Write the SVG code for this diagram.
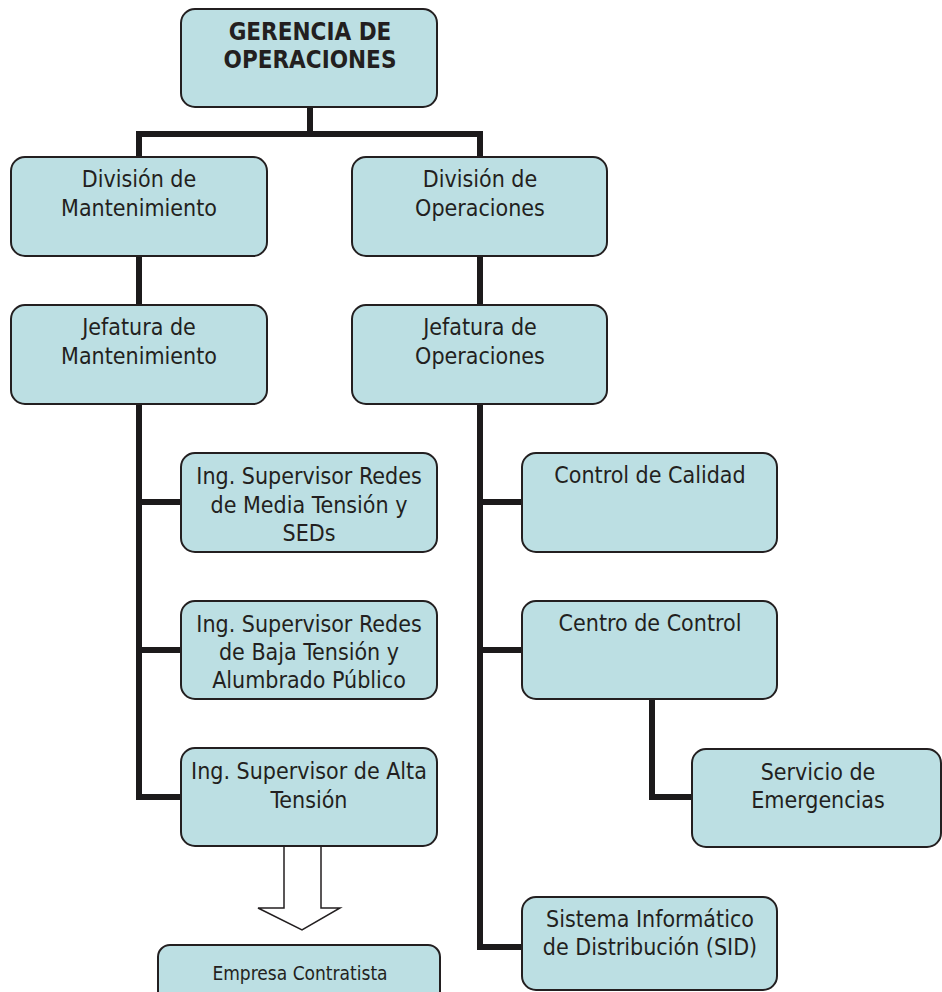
<svg xmlns="http://www.w3.org/2000/svg" width="942" height="992" viewBox="0 0 942 992">
<style>
.box{fill:#bcdfe3;stroke:#231f20;stroke-width:2}
.t{font-family:"DejaVu Sans Condensed","DejaVu Sans",sans-serif;font-size:23px;fill:#231f20;text-anchor:middle}
.b{font-weight:bold;font-size:24px}
.s{font-size:19px}
.c{fill:none;stroke:#1c1a1b;stroke-width:6;stroke-linejoin:miter}
.arrow{fill:#ffffff;stroke:#231f20;stroke-width:1.5}
</style>
<rect width="942" height="992" fill="#ffffff"/>
<g id="connectors">
<path class="c" d="M310,107 V134"/>
<path class="c" d="M139,157 V134 H480 V157"/>
<path class="c" d="M139,256 V305"/>
<path class="c" d="M480,256 V305"/>
<path class="c" d="M139,404 V797 H181"/>
<path class="c" d="M139,502 H181"/>
<path class="c" d="M139,650 H181"/>
<path class="c" d="M480,404 V947 H522"/>
<path class="c" d="M480,502 H522"/>
<path class="c" d="M480,650 H522"/>
<path class="c" d="M652,699 V797 H692"/>
<polygon class="arrow" points="284,846 321,846 321,908 340,908 302,930 258,908 284,908"/>
</g>
<g id="gerencia">
<rect class="box" x="181" y="9" width="256" height="98" rx="14"/>
<text class="t b" x="310" y="40">GERENCIA DE</text>
<text class="t b" x="310" y="68">OPERACIONES</text>
</g>
<g id="div-mant">
<rect class="box" x="11" y="157" width="256" height="99" rx="14"/>
<text class="t" x="139" y="187">División de</text>
<text class="t" x="139" y="216">Mantenimiento</text>
</g>
<g id="div-oper">
<rect class="box" x="352" y="157" width="255" height="99" rx="14"/>
<text class="t" x="480" y="187">División de</text>
<text class="t" x="480" y="216">Operaciones</text>
</g>
<g id="jef-mant">
<rect class="box" x="11" y="305" width="256" height="99" rx="14"/>
<text class="t" x="139" y="335">Jefatura de</text>
<text class="t" x="139" y="364">Mantenimiento</text>
</g>
<g id="jef-oper">
<rect class="box" x="352" y="305" width="255" height="99" rx="14"/>
<text class="t" x="480" y="335">Jefatura de</text>
<text class="t" x="480" y="364">Operaciones</text>
</g>
<g id="ing-media">
<rect class="box" x="181" y="453" width="256" height="99" rx="14"/>
<text class="t" x="309" y="484">Ing. Supervisor Redes</text>
<text class="t" x="309" y="513">de Media Tensión y</text>
<text class="t" x="309" y="541">SEDs</text>
</g>
<g id="ing-baja">
<rect class="box" x="181" y="601" width="256" height="98" rx="14"/>
<text class="t" x="309" y="632">Ing. Supervisor Redes</text>
<text class="t" x="309" y="660">de Baja Tensión y</text>
<text class="t" x="309" y="688">Alumbrado Público</text>
</g>
<g id="ing-alta">
<rect class="box" x="181" y="748" width="256" height="98" rx="14"/>
<text class="t" x="309" y="779">Ing. Supervisor de Alta</text>
<text class="t" x="309" y="808">Tensión</text>
</g>
<g id="empresa">
<rect class="box" x="158" y="945" width="282" height="60" rx="12"/>
<text class="t s" x="300" y="980">Empresa Contratista</text>
</g>
<g id="calidad">
<rect class="box" x="522" y="453" width="255" height="99" rx="14"/>
<text class="t" x="650" y="483">Control de Calidad</text>
</g>
<g id="centro">
<rect class="box" x="522" y="601" width="255" height="98" rx="14"/>
<text class="t" x="650" y="631">Centro de Control</text>
</g>
<g id="servicio">
<rect class="box" x="692" y="749" width="249" height="98" rx="14"/>
<text class="t" x="818" y="780">Servicio de</text>
<text class="t" x="818" y="808">Emergencias</text>
</g>
<g id="sid">
<rect class="box" x="522" y="897" width="255" height="93" rx="14"/>
<text class="t" x="650" y="927">Sistema Informático</text>
<text class="t" x="650" y="955">de Distribución (SID)</text>
</g>
</svg>
